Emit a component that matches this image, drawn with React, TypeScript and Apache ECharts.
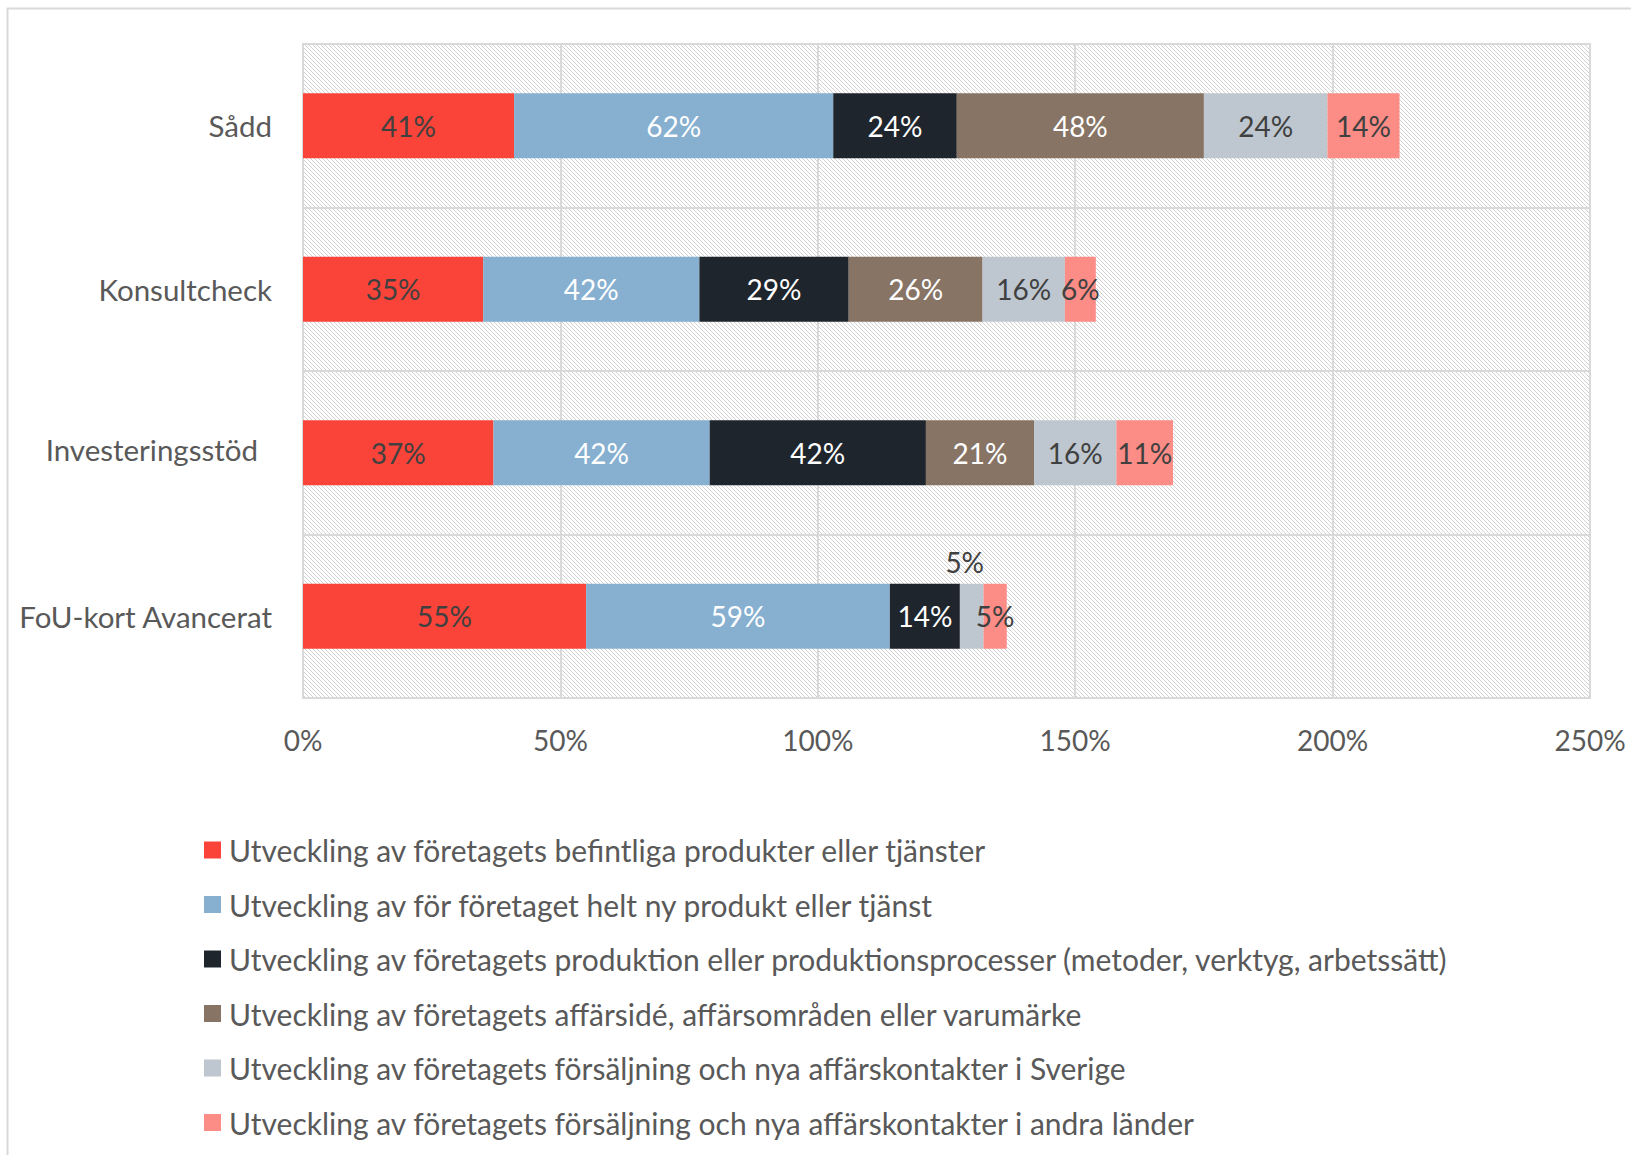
import React, { useEffect, useRef } from 'react';
import * as echarts from 'echarts';

const categories = ['Sådd', 'Konsultcheck', 'Investeringsstöd', 'FoU-kort Avancerat'];
const seriesNames = [
  'Utveckling av företagets befintliga produkter eller tjänster',
  'Utveckling av för företaget helt ny produkt eller tjänst',
  'Utveckling av företagets produktion eller produktionsprocesser (metoder, verktyg, arbetssätt)',
  'Utveckling av företagets affärsidé, affärsområden eller varumärke',
  'Utveckling av företagets försäljning och nya affärskontakter i Sverige',
  'Utveckling av företagets försäljning och nya affärskontakter i andra länder',
];
const befintliga = [41, 35, 37, 55];
const nyProdukt = [62, 42, 42, 59];
const produktion = [24, 29, 42, 13.6];
const affarside = [48, 26, 21, null];
const sverige = [24, 16, 16, 4.6];
const andraLander = [14, 6, 11, 4.5];
const xTicks = [0, 50, 100, 150, 200, 250];

const colors = ['#fa4439', '#86afd0', '#1f252c', '#877465', '#bec7cf', '#fc8c86'];
const labelColors = ['#404040', '#ffffff', '#ffffff', '#ffffff', '#404040', '#404040'];

const FONT = 'Lato';
const FS = 28;
const FS_CAT = 29.5;
const FS_LEG = 30;

function makePattern() {
  const c = document.createElement('canvas');
  c.width = 8;
  c.height = 8;
  const ctx = c.getContext('2d')!;
  ctx.fillStyle = '#ffffff';
  ctx.fillRect(0, 0, 8, 8);
  ctx.fillStyle = '#d2d2d2';
  for (let y = 0; y < 8; y++) {
    for (let x = 0; x < 8; x++) {
      if (((x - y) % 4 + 4) % 4 === 0) ctx.fillRect(x, y, 1, 1);
    }
  }
  return c;
}

export default function App() {
  const ref = useRef<HTMLDivElement>(null);
  useEffect(() => {
    document.body.style.margin = '0';
    const chart = echarts.init(ref.current!, null, { renderer: 'svg' });
    const allData = [befintliga, nyProdukt, produktion, affarside, sverige, andraLander];
    const series = allData.map((arr, i) => ({
      name: seriesNames[i],
      type: 'bar',
      stack: 'total',
      barWidth: 65,
      itemStyle: { color: colors[i] },
      label: {
        show: true,
        position: 'inside',
        color: labelColors[i],
        fontFamily: FONT,
        fontSize: FS,
        formatter: (p: any) => (p.value == null ? '' : Math.round(p.value) + '%'),
      },
      data: arr.map((v, j) => {
        if (i === 4 && j === 3) {
          return {
            value: v,
            label: { position: 'top', distance: 8, offset: [-7, 0], color: '#404040' },
          };
        }
        return v;
      }),
    }));
    chart.setOption({
      animation: false,
      backgroundColor: '#ffffff',
      textStyle: { fontFamily: FONT },
      graphic: [
        {
          type: 'rect',
          shape: { x: 7.5, y: 8.5, width: 1700, height: 1300 },
          style: { fill: 'none', stroke: '#d9d9d9', lineWidth: 2 },
          silent: true,
        },
      ],
      grid: {
        left: 303,
        top: 44,
        right: 41,
        bottom: 457,
        show: true,
        backgroundColor: { image: makePattern(), repeat: 'repeat' },
        borderColor: '#d9d9d9',
        borderWidth: 2,
      },
      xAxis: {
        type: 'value',
        min: 0,
        max: 250,
        interval: 50,
        axisLine: { show: false },
        axisTick: { show: false },
        splitLine: { show: true, lineStyle: { color: '#d9d9d9', width: 2 } },
        axisLabel: {
          formatter: (v: number) => (xTicks.includes(v) ? v + '%' : ''),
          color: '#595959',
          fontFamily: FONT,
          fontSize: FS,
          margin: 28,
        },
      },
      yAxis: {
        type: 'category',
        inverse: true,
        data: categories,
        axisLine: { show: false },
        axisTick: { show: false },
        splitLine: { show: true, interval: 0, lineStyle: { color: '#d9d9d9', width: 2 } },
        axisLabel: {
          color: '#595959',
          fontFamily: FONT,
          fontSize: FS_CAT,
          margin: 31,
          formatter: (v: string) => (v === 'Investeringsstöd' ? '{s|' + v + '}' : v),
          rich: {
            s: {
              color: '#595959',
              fontFamily: FONT,
              fontSize: FS_CAT,
              padding: [0, 14, 6, 0],
            },
          },
        },
      },
      legend: {
        orient: 'vertical',
        left: 199,
        top: 830,
        itemWidth: 17,
        itemHeight: 17,
        itemGap: 24.5,
        icon: 'rect',
        data: seriesNames,
        textStyle: {
          color: '#595959',
          fontFamily: FONT,
          fontSize: FS_LEG,
          lineHeight: 30,
          padding: [0, 0, 0, 3],
        },
      },
      series,
    });
    return () => chart.dispose();
  }, []);
  return (
    <div
      ref={ref}
      style={{ position: 'absolute', left: 0, top: 0, width: 1631, height: 1155 }}
    />
  );
}
